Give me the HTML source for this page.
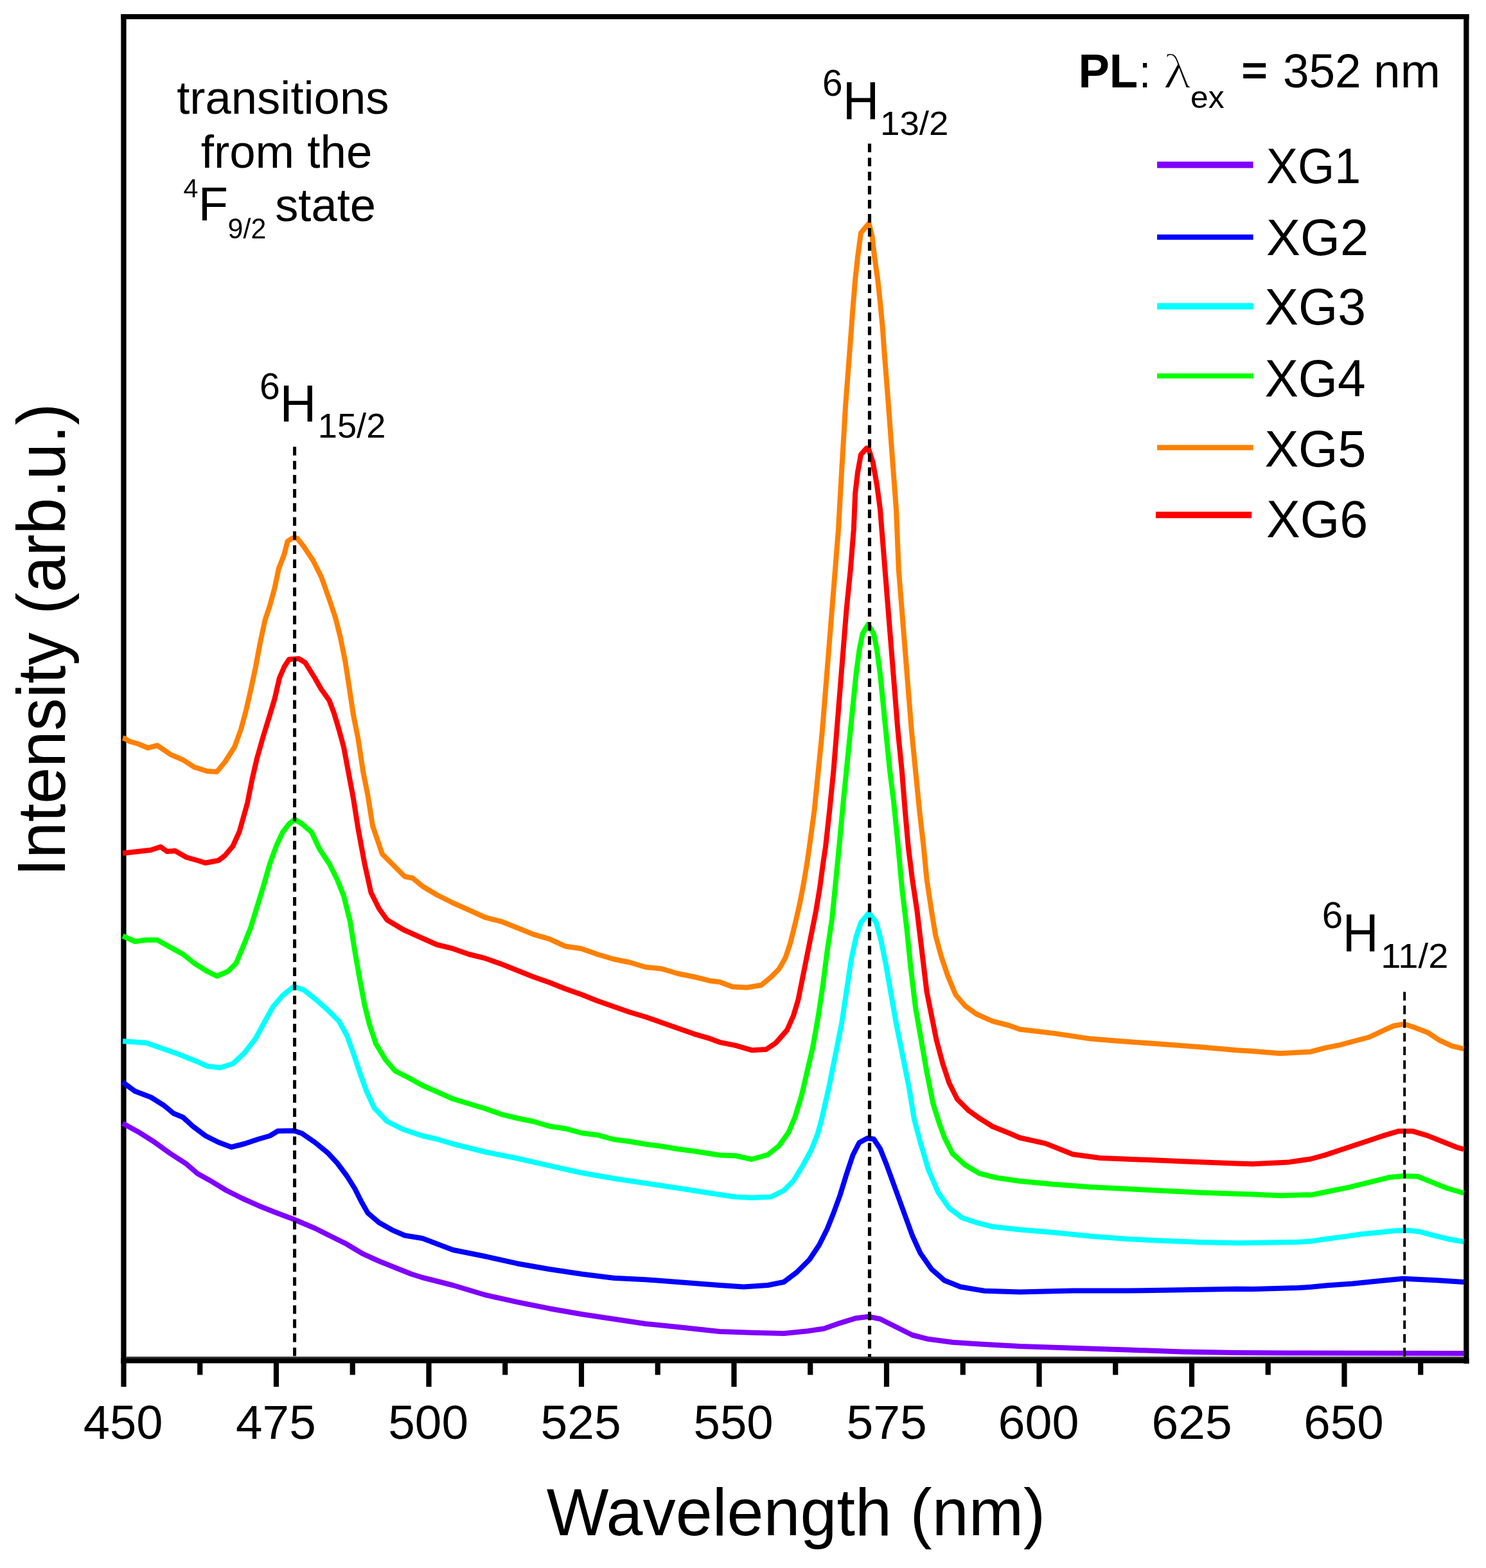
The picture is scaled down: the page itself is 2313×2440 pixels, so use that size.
<!DOCTYPE html><html><head><meta charset="utf-8"><title>PL spectra</title><style>html,body{margin:0;padding:0;background:#fff;}body{width:2313px;height:2440px;overflow:hidden;}svg{display:block;}text{font-family:"Liberation Sans", Arial, sans-serif;fill:#000;}</style></head><body>
<svg width="2313" height="2440" viewBox="0 0 2313 2440">
<rect x="0" y="0" width="2313" height="2440" fill="#fff"/>
<rect x="188.3" y="22" width="8.3" height="2100" fill="#000"/>
<rect x="2278.2" y="22" width="8.3" height="2100" fill="#000"/>
<rect x="188.3" y="22" width="2098.2" height="7.9" fill="#000"/>
<rect x="196.6" y="2111" width="2081.6" height="3" fill="#3a3d38"/>
<rect x="188.3" y="2113.6" width="2098.2" height="7.8" fill="#000"/>
<polyline points="191.0,1748.0 215.0,1761.2 240.0,1777.0 265.0,1795.0 290.0,1811.2 307.5,1826.2 330.0,1838.8 352.5,1852.5 377.5,1865.0 402.5,1876.2 427.5,1886.2 457.5,1897.5 490.0,1911.2 515.0,1923.8 540.0,1936.2 565.0,1951.2 590.0,1962.5 615.0,1972.5 640.0,1982.5 657.5,1988.0 705.0,2000.0 755.0,2015.0 805.0,2026.2 855.0,2036.2 905.0,2045.0 955.0,2052.5 1005.0,2060.0 1055.0,2065.0 1120.0,2072.0 1170.0,2073.8 1220.0,2075.0 1257.5,2071.2 1282.5,2067.5 1307.5,2058.8 1332.5,2051.2 1352.5,2048.8 1370.0,2052.5 1395.0,2065.0 1420.0,2077.5 1445.0,2083.8 1482.5,2088.8 1520.0,2091.2 1587.5,2095.0 1669.9,2097.8 1754.8,2100.6 1839.7,2103.4 1924.7,2104.9 2009.6,2105.5 2278.3,2106.0" fill="none" stroke="#8000FF" stroke-width="8" stroke-linejoin="round" stroke-linecap="butt"/>
<polyline points="191.0,1684.0 210.0,1698.0 235.0,1707.5 255.0,1720.0 270.0,1732.5 285.0,1738.8 300.0,1752.5 320.0,1767.5 340.0,1777.5 360.0,1785.0 380.0,1780.0 402.5,1772.5 420.0,1767.5 432.5,1760.0 457.5,1759.5 470.0,1763.8 490.0,1777.5 510.0,1793.8 525.0,1810.0 540.0,1830.0 552.5,1850.0 562.5,1870.0 572.5,1887.5 590.0,1902.5 610.0,1913.8 630.0,1922.5 657.5,1927.0 705.0,1945.0 755.0,1955.0 805.0,1966.2 855.0,1975.0 905.0,1982.5 955.0,1988.8 1005.0,1991.2 1055.0,1995.0 1120.0,2000.0 1157.5,2002.5 1195.0,2000.0 1220.0,1995.0 1240.0,1980.0 1260.0,1960.0 1275.0,1937.5 1287.5,1912.5 1297.5,1887.5 1307.5,1860.0 1317.5,1827.5 1327.5,1797.5 1337.5,1778.0 1350.0,1771.2 1360.0,1772.5 1370.0,1787.5 1380.0,1812.5 1390.0,1840.0 1400.0,1867.5 1410.0,1895.0 1420.0,1922.5 1432.5,1950.0 1450.0,1975.0 1470.0,1992.5 1495.0,2002.5 1532.5,2008.8 1587.5,2010.5 1669.9,2008.6 1754.8,2008.6 1839.7,2007.2 1924.7,2005.8 1950.0,2006.0 2020.7,2004.1 2040.0,2002.8 2066.1,2000.2 2105.3,1997.5 2144.5,1993.6 2183.7,1989.7 2209.8,1991.0 2235.9,1992.3 2278.3,1994.9" fill="none" stroke="#0000FF" stroke-width="8" stroke-linejoin="round" stroke-linecap="butt"/>
<polyline points="191.0,1620.2 227.5,1622.8 252.5,1631.5 277.5,1640.2 302.5,1650.2 322.5,1659.0 342.5,1661.5 362.5,1655.2 380.0,1639.0 397.5,1616.5 412.5,1589.0 425.0,1566.5 440.0,1549.0 457.5,1535.2 472.5,1540.2 490.0,1554.0 510.0,1571.5 527.5,1589.0 540.0,1611.5 550.0,1639.0 560.0,1669.0 570.0,1697.0 582.5,1724.0 602.5,1745.0 627.5,1757.5 657.5,1767.5 680.0,1772.5 705.0,1780.0 755.0,1792.5 805.0,1802.5 855.0,1813.8 905.0,1825.0 955.0,1833.8 1005.0,1841.2 1055.0,1848.8 1120.0,1859.0 1145.0,1862.5 1170.0,1863.8 1200.0,1862.5 1220.0,1852.5 1235.0,1837.5 1250.0,1813.0 1262.5,1790.0 1272.5,1765.0 1278.8,1742.0 1290.0,1693.0 1300.0,1643.0 1310.0,1593.0 1317.5,1543.0 1325.0,1493.0 1332.5,1458.0 1340.0,1435.5 1352.5,1420.5 1363.8,1435.5 1371.2,1463.0 1378.8,1500.5 1386.2,1543.0 1395.0,1593.0 1405.0,1643.0 1415.0,1693.0 1423.0,1742.0 1432.5,1777.5 1445.0,1820.0 1460.0,1855.0 1477.5,1880.0 1497.5,1895.0 1520.0,1902.5 1545.0,1908.8 1587.5,1913.5 1641.6,1918.0 1698.2,1923.7 1754.8,1928.0 1811.4,1930.8 1868.0,1933.0 1924.7,1934.2 1950.0,1934.0 2020.7,1932.8 2040.0,1931.6 2066.1,1927.7 2092.2,1924.4 2118.4,1920.5 2144.5,1917.9 2170.6,1915.3 2190.2,1914.6 2209.8,1916.6 2229.4,1921.8 2255.5,1928.3 2278.3,1932.2" fill="none" stroke="#00FFFF" stroke-width="8" stroke-linejoin="round" stroke-linecap="butt"/>
<polyline points="191.0,1456.5 210.0,1465.0 227.5,1462.8 245.0,1462.8 265.0,1474.0 285.0,1485.0 302.5,1499.0 322.5,1511.5 337.5,1519.0 355.0,1511.5 367.5,1499.0 380.0,1469.0 390.0,1444.0 400.0,1411.5 410.0,1379.0 420.0,1344.0 430.0,1316.5 440.0,1295.0 450.0,1282.0 458.8,1275.0 470.0,1282.0 485.0,1295.0 497.5,1321.5 512.5,1344.0 525.0,1369.0 535.0,1394.0 545.0,1434.0 552.5,1481.5 560.0,1524.0 567.5,1564.0 575.0,1594.0 585.0,1624.0 600.0,1649.0 615.0,1666.5 635.0,1676.5 657.5,1689.0 680.0,1698.8 705.0,1710.0 730.0,1717.5 755.0,1725.0 780.0,1733.8 805.0,1740.0 830.0,1745.0 855.0,1752.5 880.0,1756.2 905.0,1763.0 930.0,1766.2 955.0,1773.0 980.0,1776.2 1005.0,1780.5 1030.0,1783.8 1055.0,1788.0 1080.0,1791.2 1120.0,1797.5 1145.0,1798.5 1170.0,1804.0 1195.0,1797.0 1212.5,1783.0 1227.5,1762.0 1237.5,1738.0 1247.5,1705.5 1256.2,1668.0 1265.0,1630.5 1273.8,1580.5 1281.2,1530.5 1287.5,1480.5 1295.0,1430.5 1300.0,1380.5 1306.2,1317.0 1312.5,1249.0 1317.5,1199.0 1322.5,1149.0 1327.5,1099.0 1332.5,1049.0 1337.5,1011.5 1342.5,986.5 1351.2,971.5 1360.0,986.5 1365.0,1011.5 1370.0,1049.0 1375.0,1099.0 1380.0,1149.0 1385.0,1199.0 1391.2,1249.0 1398.0,1317.0 1403.8,1380.5 1411.2,1443.0 1417.5,1505.5 1425.0,1568.0 1433.8,1618.0 1442.5,1668.0 1452.5,1718.0 1462.0,1748.0 1470.0,1770.0 1482.5,1795.0 1502.5,1813.0 1525.0,1826.2 1550.0,1832.5 1587.5,1838.0 1641.6,1843.0 1698.2,1847.3 1754.8,1850.1 1811.4,1853.0 1868.0,1855.8 1924.7,1857.8 1950.0,1858.4 1992.4,1860.4 2034.9,1859.3 2040.0,1859.6 2070.3,1853.5 2100.6,1847.4 2131.0,1839.9 2161.3,1832.3 2184.0,1830.0 2206.8,1830.8 2229.5,1839.9 2252.2,1849.0 2278.3,1856.5" fill="none" stroke="#00FF00" stroke-width="8" stroke-linejoin="round" stroke-linecap="butt"/>
<polyline points="191.0,1327.8 215.0,1325.0 235.0,1322.8 250.0,1317.8 260.0,1325.0 272.5,1324.0 290.0,1334.0 307.5,1339.0 320.0,1342.8 340.0,1339.0 350.0,1331.5 362.5,1316.5 372.5,1294.5 385.0,1250.0 392.5,1212.5 400.0,1180.0 410.0,1145.0 420.0,1112.5 427.5,1087.5 435.0,1055.0 442.5,1037.5 450.0,1026.0 465.0,1025.0 475.0,1031.0 490.0,1055.0 500.0,1072.5 512.5,1090.0 520.0,1110.0 527.5,1135.0 535.0,1162.5 542.5,1202.5 550.0,1242.5 557.5,1290.0 567.5,1344.0 577.5,1389.0 590.0,1414.0 602.5,1431.5 627.5,1446.5 657.5,1460.0 680.0,1470.0 705.0,1476.2 730.0,1485.0 755.0,1491.2 780.0,1500.0 805.0,1510.0 830.0,1520.0 855.0,1528.8 880.0,1538.8 905.0,1547.5 930.0,1557.5 955.0,1566.2 980.0,1575.0 1005.0,1582.5 1030.0,1591.2 1055.0,1600.0 1080.0,1608.8 1105.0,1616.2 1120.0,1621.8 1145.0,1626.8 1170.0,1634.2 1192.5,1633.0 1207.5,1623.0 1225.0,1603.0 1235.0,1580.5 1242.5,1555.5 1247.5,1530.5 1255.0,1493.0 1262.5,1455.5 1270.0,1418.0 1276.2,1380.5 1281.2,1343.0 1285.0,1318.0 1291.2,1261.5 1297.5,1199.0 1302.5,1136.5 1307.5,1074.0 1312.5,1011.5 1317.5,949.0 1323.8,886.5 1328.8,824.0 1331.2,767.5 1335.0,735.0 1340.0,707.5 1348.8,697.5 1352.5,700.0 1358.8,720.0 1365.0,755.0 1370.0,792.5 1372.5,824.0 1377.5,886.5 1382.5,949.0 1387.5,1011.5 1392.5,1074.0 1397.5,1136.5 1403.8,1199.0 1408.8,1261.5 1413.8,1318.0 1420.0,1368.0 1427.5,1418.0 1435.0,1480.5 1442.5,1543.0 1450.0,1580.5 1457.5,1618.0 1467.5,1655.5 1477.5,1685.5 1490.0,1710.5 1507.5,1728.0 1525.0,1740.5 1545.0,1753.0 1570.0,1763.0 1587.5,1770.5 1627.5,1779.4 1669.9,1796.3 1712.4,1802.0 1783.1,1804.8 1853.9,1807.7 1924.7,1810.5 1950.0,1811.2 2006.6,1808.4 2040.0,1803.5 2062.7,1797.4 2085.5,1789.8 2108.2,1782.3 2131.0,1774.7 2153.7,1767.1 2176.4,1760.3 2199.2,1760.3 2221.9,1767.1 2244.7,1776.2 2267.4,1785.3 2278.3,1788.3" fill="none" stroke="#FF0000" stroke-width="8" stroke-linejoin="round" stroke-linecap="butt"/>
<polyline points="191.0,1148.5 195.0,1149.5 201.0,1153.5 215.0,1157.5 230.0,1163.8 245.0,1160.0 265.0,1173.8 285.0,1182.5 302.5,1193.8 322.5,1200.0 337.5,1201.0 350.0,1186.0 365.0,1162.5 375.0,1135.0 382.5,1107.5 390.0,1075.0 397.5,1040.0 405.0,1000.0 412.5,965.0 420.0,942.5 427.5,915.0 433.8,885.0 442.5,862.5 447.5,842.5 455.0,837.5 462.5,837.5 472.5,850.0 487.5,872.5 500.0,897.5 512.5,932.5 522.5,962.5 530.0,992.5 537.5,1030.0 542.5,1062.5 550.0,1112.5 557.5,1150.0 565.0,1200.0 572.5,1237.5 580.0,1285.0 595.0,1329.0 615.0,1349.0 630.0,1364.0 642.5,1366.5 657.5,1379.0 680.0,1392.5 705.0,1405.0 730.0,1416.2 755.0,1427.5 780.0,1433.8 805.0,1443.8 830.0,1453.8 855.0,1461.2 880.0,1472.5 905.0,1476.2 930.0,1485.0 955.0,1492.5 980.0,1497.5 1005.0,1505.0 1030.0,1507.5 1055.0,1515.0 1080.0,1520.0 1105.0,1526.2 1120.0,1528.0 1140.0,1535.5 1162.5,1536.8 1185.0,1533.0 1200.0,1520.5 1212.5,1508.0 1222.5,1490.5 1230.0,1468.0 1237.5,1438.0 1245.0,1405.5 1251.2,1373.0 1256.2,1343.0 1260.0,1316.5 1267.5,1261.5 1273.8,1199.0 1280.0,1136.5 1285.0,1074.0 1290.0,1011.5 1295.0,949.0 1300.0,886.5 1305.0,824.0 1308.8,755.0 1312.5,692.5 1316.2,630.0 1320.0,580.0 1323.8,530.0 1327.5,480.0 1331.2,435.0 1335.0,400.0 1340.0,362.5 1346.2,355.0 1352.5,347.5 1357.5,367.5 1361.2,400.0 1366.2,435.0 1370.0,470.0 1373.8,510.0 1376.2,545.0 1380.0,592.5 1383.8,642.5 1387.5,692.5 1391.2,742.5 1395.0,792.5 1398.8,886.5 1403.8,949.0 1408.8,1011.5 1413.8,1074.0 1418.8,1136.5 1425.0,1199.0 1431.2,1261.5 1437.5,1316.5 1442.5,1368.0 1450.0,1418.0 1456.2,1455.5 1465.0,1488.0 1475.0,1518.0 1487.5,1548.0 1502.5,1565.5 1520.0,1578.0 1545.0,1589.2 1570.0,1595.5 1587.5,1601.8 1641.6,1608.1 1698.2,1616.6 1754.8,1620.9 1811.4,1625.1 1868.0,1629.3 1924.7,1634.2 1950.0,1635.8 1992.4,1639.2 2034.9,1637.0 2040.0,1636.7 2062.7,1630.6 2085.5,1626.1 2108.2,1620.0 2131.0,1614.0 2153.7,1603.4 2168.9,1596.5 2185.5,1593.5 2199.2,1598.0 2221.9,1606.4 2240.1,1618.5 2259.8,1627.6 2278.3,1632.2" fill="none" stroke="#FF8000" stroke-width="8" stroke-linejoin="round" stroke-linecap="butt"/>
<line x1="458.6" y1="695.3" x2="458.6" y2="2112" stroke="#000" stroke-width="5" stroke-dasharray="13.4 8.5"/>
<line x1="1353.5" y1="223.5" x2="1353.5" y2="2112" stroke="#000" stroke-width="5.2" stroke-dasharray="13.4 8.5"/>
<line x1="2186.2" y1="1543.5" x2="2186.2" y2="2112" stroke="#000" stroke-width="4" stroke-dasharray="13.4 7.9"/>
<rect x="188.40" y="2118" width="8.2" height="40" fill="#000"/>
<rect x="425.90" y="2118" width="8.2" height="40" fill="#000"/>
<rect x="663.40" y="2118" width="8.2" height="40" fill="#000"/>
<rect x="900.90" y="2118" width="8.2" height="40" fill="#000"/>
<rect x="1138.40" y="2118" width="8.2" height="40" fill="#000"/>
<rect x="1375.90" y="2118" width="8.2" height="40" fill="#000"/>
<rect x="1613.40" y="2118" width="8.2" height="40" fill="#000"/>
<rect x="1850.90" y="2118" width="8.2" height="40" fill="#000"/>
<rect x="2088.40" y="2118" width="8.2" height="40" fill="#000"/>
<rect x="307.15" y="2118" width="8.2" height="21.5" fill="#000"/>
<rect x="544.65" y="2118" width="8.2" height="21.5" fill="#000"/>
<rect x="782.15" y="2118" width="8.2" height="21.5" fill="#000"/>
<rect x="1019.65" y="2118" width="8.2" height="21.5" fill="#000"/>
<rect x="1257.15" y="2118" width="8.2" height="21.5" fill="#000"/>
<rect x="1494.65" y="2118" width="8.2" height="21.5" fill="#000"/>
<rect x="1732.15" y="2118" width="8.2" height="21.5" fill="#000"/>
<rect x="1969.65" y="2118" width="8.2" height="21.5" fill="#000"/>
<rect x="2207.15" y="2118" width="8.2" height="21.5" fill="#000"/>
<text x="275.20" y="176.80" font-size="71.44"  textLength="330.27" lengthAdjust="spacingAndGlyphs">transitions</text>
<text x="312.80" y="261.40" font-size="71.44"  textLength="266.54" lengthAdjust="spacingAndGlyphs">from the</text>
<text x="285.60" y="306.80" font-size="40.47"  textLength="22.97" lengthAdjust="spacingAndGlyphs">4</text>
<text x="308.80" y="342.80" font-size="74.86"  textLength="46.25" lengthAdjust="spacingAndGlyphs">F</text>
<text x="354.60" y="370.50" font-size="45.15"  textLength="59.71" lengthAdjust="spacingAndGlyphs">9/2</text>
<text x="428.20" y="343.70" font-size="72.00"  textLength="156.78" lengthAdjust="spacingAndGlyphs">state</text>
<text x="404.00" y="621.00" font-size="56.67"  textLength="31.83" lengthAdjust="spacingAndGlyphs">6</text>
<text x="435.60" y="656.20" font-size="82.38"  textLength="56.90" lengthAdjust="spacingAndGlyphs">H</text>
<text x="494.80" y="681.20" font-size="53.73"  textLength="105.56" lengthAdjust="spacingAndGlyphs">15/2</text>
<text x="1280.00" y="149.20" font-size="57.24"  textLength="31.54" lengthAdjust="spacingAndGlyphs">6</text>
<text x="1311.80" y="186.40" font-size="83.10"  textLength="56.62" lengthAdjust="spacingAndGlyphs">H</text>
<text x="1370.00" y="210.00" font-size="52.40"  textLength="106.48" lengthAdjust="spacingAndGlyphs">13/2</text>
<text x="2057.80" y="1444.40" font-size="57.03"  textLength="32.42" lengthAdjust="spacingAndGlyphs">6</text>
<text x="2089.80" y="1481.40" font-size="82.80"  textLength="55.86" lengthAdjust="spacingAndGlyphs">H</text>
<text x="2149.20" y="1506.20" font-size="54.25"  textLength="105.28" lengthAdjust="spacingAndGlyphs">11/2</text>
<text x="1678.40" y="135.80" font-size="74.56" font-weight="bold" textLength="92.81" lengthAdjust="spacingAndGlyphs">PL</text>
<text x="1773.00" y="135.80" font-size="71.80"  textLength="18.25" lengthAdjust="spacingAndGlyphs">:</text>
<text x="1810.00" y="137.00" font-size="76.72" style="font-family:&quot;Liberation Serif&quot;,serif" stroke="#fff" stroke-width="2" textLength="45.35" lengthAdjust="spacingAndGlyphs">λ</text>
<text x="1853.00" y="167.80" font-size="48.40"  textLength="52.64" lengthAdjust="spacingAndGlyphs">ex</text>
<text x="1932.20" y="131.40" font-size="62.65" font-weight="bold" textLength="40.84" lengthAdjust="spacingAndGlyphs">=</text>
<text x="1997.00" y="136.00" font-size="73.34"  textLength="121.59" lengthAdjust="spacingAndGlyphs">352</text>
<text x="2138.10" y="136.00" font-size="73.52"  textLength="103.88" lengthAdjust="spacingAndGlyphs">nm</text>
<text x="1971.00" y="284.80" font-size="77.62"  textLength="147.17" lengthAdjust="spacingAndGlyphs">XG1</text>
<text x="1971.00" y="396.80" font-size="80.55"  textLength="159.16" lengthAdjust="spacingAndGlyphs">XG2</text>
<text x="1968.40" y="505.40" font-size="80.29"  textLength="157.58" lengthAdjust="spacingAndGlyphs">XG3</text>
<text x="1968.40" y="617.40" font-size="80.81"  textLength="157.24" lengthAdjust="spacingAndGlyphs">XG4</text>
<text x="1968.40" y="726.40" font-size="80.52"  textLength="158.07" lengthAdjust="spacingAndGlyphs">XG5</text>
<text x="1971.00" y="835.80" font-size="80.81"  textLength="158.16" lengthAdjust="spacingAndGlyphs">XG6</text>
<text x="129.80" y="2239.20" font-size="74.00"  textLength="123.74" lengthAdjust="spacingAndGlyphs">450</text>
<text x="367.00" y="2239.20" font-size="74.00"  textLength="124.73" lengthAdjust="spacingAndGlyphs">475</text>
<text x="604.20" y="2239.20" font-size="74.00"  textLength="124.83" lengthAdjust="spacingAndGlyphs">500</text>
<text x="841.60" y="2239.20" font-size="74.00"  textLength="125.09" lengthAdjust="spacingAndGlyphs">525</text>
<text x="1079.60" y="2239.20" font-size="74.00"  textLength="124.16" lengthAdjust="spacingAndGlyphs">550</text>
<text x="1317.40" y="2239.20" font-size="74.00"  textLength="125.25" lengthAdjust="spacingAndGlyphs">575</text>
<text x="1553.60" y="2239.20" font-size="74.00"  textLength="125.95" lengthAdjust="spacingAndGlyphs">600</text>
<text x="1792.60" y="2239.20" font-size="74.00"  textLength="125.01" lengthAdjust="spacingAndGlyphs">625</text>
<text x="2029.20" y="2239.20" font-size="74.00"  textLength="124.41" lengthAdjust="spacingAndGlyphs">650</text>
<text x="850.70" y="2388.90" font-size="102.92"  textLength="776.45" lengthAdjust="spacingAndGlyphs">Wavelength (nm)</text>
<text transform="translate(101,1364) rotate(-90)" x="0" y="0" font-size="105" textLength="736.5" lengthAdjust="spacingAndGlyphs">Intensity (arb.u.)</text>
<rect x="1801.1" y="251.50" width="149.5" height="10" fill="#8000FF"/>
<rect x="1801.1" y="364.90" width="149.5" height="8.2" fill="#0000FF"/>
<rect x="1801.1" y="471.60" width="149.5" height="10" fill="#00FFFF"/>
<rect x="1801.1" y="581.10" width="149.5" height="7.8" fill="#00FF00"/>
<rect x="1801.1" y="692.40" width="149.5" height="8.2" fill="#FF8000"/>
<rect x="1799" y="796.30" width="149.2" height="10" fill="#FF0000"/>
</svg></body></html>
